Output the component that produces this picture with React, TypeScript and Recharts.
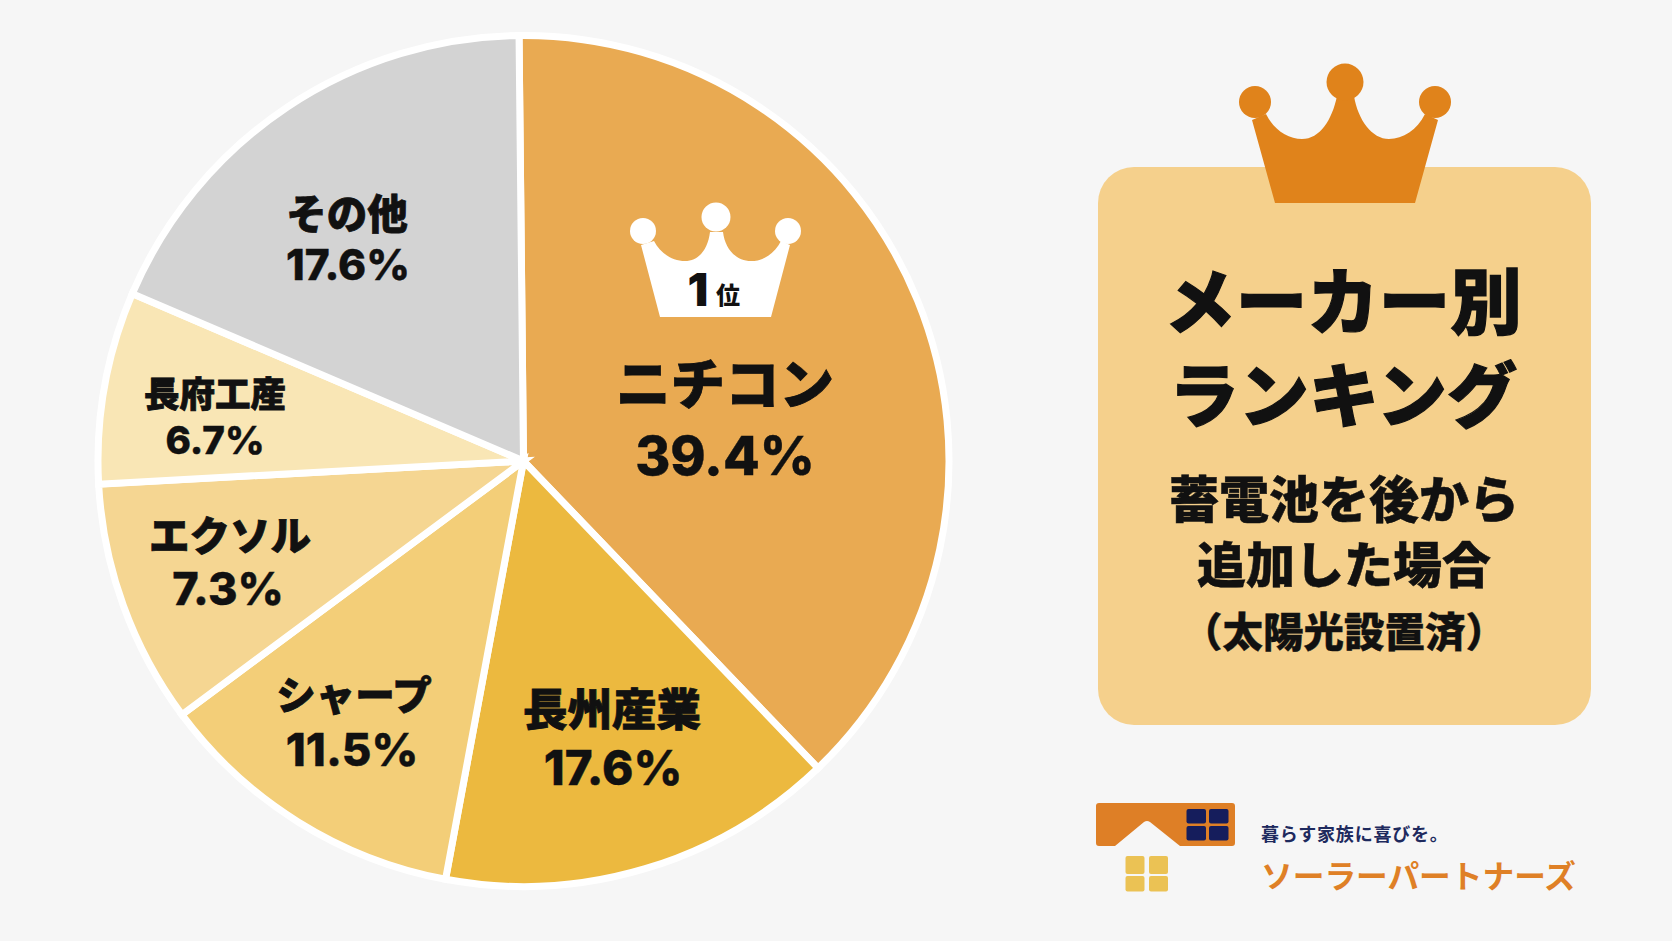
import { PieChart, Pie } from 'recharts';

// Names and printed percentages, as they read in the picture
const makers = ['ニチコン', '長州産業', 'シャープ', 'エクソル', '長府工産', 'その他'];
const percentLabels = ['39.4%', '17.6%', '11.5%', '7.3%', '6.7%', '17.6%'];
// Slice sizes as drawn in the picture (they differ a little from the printed percentages)
const sliceShares = [38.0, 15.1, 11.9, 9.3, 7.3, 18.4];
const sliceColors = ['#E9AA52', '#ECB93F', '#F3CE78', '#F5D692', '#F9E6B5', '#D3D3D3'];

const titleLines = ['メーカー別', 'ランキング'];
const subtitleLines = ['蓄電池を後から', '追加した場合', '（太陽光設置済）'];
const tagline = '暮らす家族に喜びを。';
const brandName = 'ソーラーパートナーズ';

const FONT = '"Noto Sans CJK JP", "Noto Sans", sans-serif';
const NUM_FONT = 'Inter, "Noto Sans CJK JP", sans-serif';
const BG = '#F6F6F6';
const INK = '#111111';

// name x, name y, name size, percent x, percent y, percent size
const LABEL_LAYOUT = [
  [725, 380, 54.5, 725, 455, 53.5],
  [612, 706, 44.5, 613, 767, 47.5],
  [354, 692, 39.5, 352, 749, 45.5],
  [230, 533, 40.5, 228, 588, 45],
  [215, 391, 35.5, 215, 440, 38.5],
  [347, 211, 40.5, 348, 264, 42.5],
];

const chartData = makers.map((name, i) => ({
  name,
  share: sliceShares[i],
  fill: sliceColors[i],
}));

const SmallCrown = () => (
  <g fill="#FFFFFF">
    <path d="M660 317 L641 245 L654 241 C660 253 672 261 685 261 C699 261 708 249 710 232 L723 232 C725 249 736 261 751 261 C764 261 775 253 781 241 L790 245 L771 317 Z" />
    <circle cx={643} cy={231} r={13} />
    <circle cx={716} cy={217} r={14.5} />
    <circle cx={788} cy={231} r={13} />
    <text x={698} y={289} fontFamily={NUM_FONT} fontWeight={900} fontSize={46} fill={INK} textAnchor="middle" dominantBaseline="central">1</text>
    <text x={728} y={293} fontFamily={FONT} fontWeight={900} fontSize={24} fill={INK} textAnchor="middle" dominantBaseline="central">位</text>
  </g>
);

const renderSliceLabel = ({ index }: { index: number }) => {
  const [nameX, nameY, nameSize, pctX, pctY, pctSize] = LABEL_LAYOUT[index];
  return (
    <g key={index}>
      {index === 0 && <SmallCrown />}
      <g fill={INK} textAnchor="middle" dominantBaseline="central" stroke={INK}>
        <text x={nameX} y={nameY} strokeWidth={0.8} fontFamily={FONT} fontWeight={900} fontSize={nameSize}>{makers[index]}</text>
        <text x={pctX} y={pctY} strokeWidth={0.4} fontFamily={NUM_FONT} fontWeight={800} fontSize={pctSize}>{percentLabels[index]}</text>
      </g>
    </g>
  );
};

const TitleCard = () => (
  <g>
    <rect x={1098} y={167} width={493} height={558} rx={36} fill="#F5D08C" />
    <g fill="#E0831B">
      <path d="M1275 203 L1252 120 L1266 114 C1274 130 1288 139 1302 139 C1320 139 1332 120 1337 96 L1354 96 C1358 120 1372 139 1389 139 C1403 139 1417 130 1425 114 L1438 120 L1415 203 Z" />
      <circle cx={1255} cy={102} r={16} />
      <circle cx={1345} cy={82} r={18.5} />
      <circle cx={1435} cy={102} r={16} />
    </g>
    <g fontFamily={FONT} fontWeight={900} fill={INK} textAnchor="middle" dominantBaseline="central" stroke={INK}>
      <text x={1343} y={297} strokeWidth={1.2} fontSize={71.5}>{titleLines[0]}</text>
      <text x={1343} y={391} strokeWidth={1.2} fontSize={70}>{titleLines[1]}</text>
      <text x={1344} y={496} strokeWidth={0.5} fontSize={50}>{subtitleLines[0]}</text>
      <text x={1344} y={561} strokeWidth={0.5} fontSize={49}>{subtitleLines[1]}</text>
      <text x={1344} y={629} strokeWidth={0.4} fontSize={40.5}>{subtitleLines[2]}</text>
    </g>
  </g>
);

const BrandLogo = () => (
  <g>
    <path d="M1099 803 H1232 a3 3 0 0 1 3 3 V843 a3 3 0 0 1 -3 3 H1180 L1150 822 Q1147 820 1144 822 L1115 846 H1099 a3 3 0 0 1 -3 -3 V806 a3 3 0 0 1 3 -3 Z" fill="#DE7F26" />
    <g fill="#151D5C">
      <rect x={1186.5} y={809} width={19.5} height={14.5} rx={2} />
      <rect x={1209} y={809} width={19.5} height={14.5} rx={2} />
      <rect x={1186.5} y={826} width={19.5} height={14.5} rx={2} />
      <rect x={1209} y={826} width={19.5} height={14.5} rx={2} />
    </g>
    <g fill="#EBC254">
      <rect x={1125.5} y={856} width={19} height={18} rx={2} />
      <rect x={1149} y={856} width={19} height={18} rx={2} />
      <rect x={1125.5} y={876} width={19} height={15.5} rx={2} />
      <rect x={1149} y={876} width={19} height={15.5} rx={2} />
    </g>
    <text x={1261} y={833} fontFamily={FONT} fontWeight={700} fontSize={18} letterSpacing={0.8} fill="#1E2A5E" dominantBaseline="central">{tagline}</text>
    <text x={1261} y={874} fontFamily={FONT} fontWeight={700} fontSize={31.7} fill="#DF8026" dominantBaseline="central">{brandName}</text>
  </g>
);

export default function App() {
  return (
    <div style={{ position: 'absolute', left: 0, top: 0, width: 1672, height: 941, background: BG, overflow: 'hidden' }}>
      <PieChart width={1672} height={941} margin={{ top: 0, right: 0, bottom: 0, left: 0 }}>
        <Pie
          data={chartData}
          dataKey="share"
          nameKey="name"
          cx={523.5}
          cy={461}
          innerRadius={0}
          outerRadius={425.5}
          startAngle={90.6}
          endAngle={-269.4}
          stroke="#FFFFFF"
          strokeWidth={7}
          label={renderSliceLabel}
          labelLine={false}
          isAnimationActive={false}
        />
        <TitleCard />
        <BrandLogo />
      </PieChart>
    </div>
  );
}
